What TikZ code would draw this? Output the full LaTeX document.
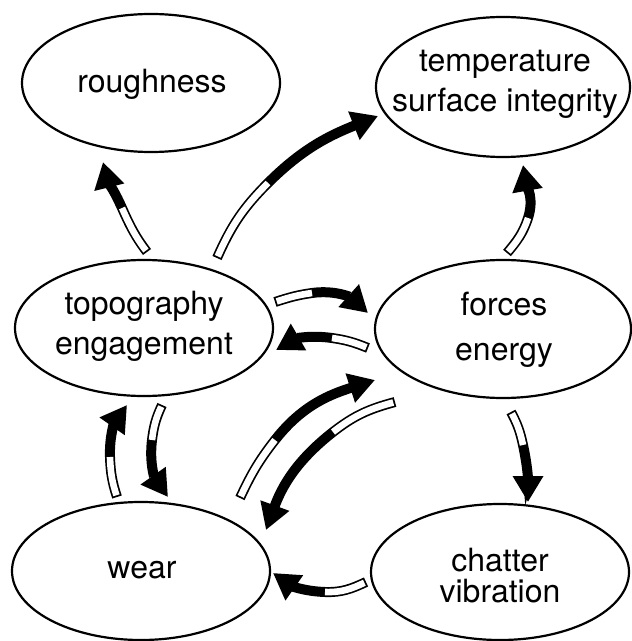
\documentclass[tikz,border=0pt]{standalone}
\usepackage{fontspec}
\setmainfont{TeX Gyre Heros}
\usetikzlibrary{arrows.meta,shapes.geometric}

\begin{document}
\begin{tikzpicture}[x=0.5pt,y=-0.5pt,
 blob/.style={draw,ellipse,line width=1.1pt,inner sep=0pt,minimum width=129pt,minimum height=69pt},
 word/.style={align=center,inner sep=0pt,font=\fontsize{16}{20}\selectfont},
 hole/.style={white,line width=3.3pt,shorten <=0.9pt},
 flow/.style={line width=5pt,-{Triangle[length=13pt,width=14.5pt]}}]
 \useasboundingbox (0,0) rectangle (631,641);
 % the six quantities
 \node[blob] (rough) at (151,83) {};
 \node[blob,minimum width=127pt,minimum height=70pt] (temp) at (503,87) {};
 \node[blob,minimum height=68pt] (topo) at (144,328) {};
 \node[blob,minimum width=128pt] (force) at (503,329) {};
 \node[blob] (wear) at (141,571) {};
 \node[blob,minimum height=68pt] (chat) at (500,572) {};
 \node[word] (rough-t) at (152,84) {roughness};
 \node[word] (temp-t) at (505,84) {temperature\\surface integrity};
 \node[word] (topo-t) at (144,326) {topography\\engagement};
 \node[word,font=\fontsize{16}{22.5}\selectfont] (force-t) at (504,330) {forces\\energy};
 \node[word] (wear-t) at (142,570) {wear};
 \node[word,font=\fontsize{16}{15.5}\selectfont] (chat-t) at (500,576) {chatter\\vibration};
 % topography -> roughness
 \coordinate (a0) at (147,252); \coordinate (am) at (122,208); \coordinate (a1) at (103,162);
 \draw[flow] (a0) to[out=127,in=294] (am) to[out=114,in=284] (a1);
 \draw[hole] (a0) to[out=127,in=294] (am);
 % topography -> temperature
 \coordinate (b0) at (217,258); \coordinate (bm) at (268,183); \coordinate (b1) at (378,116);
 \draw[flow] (b0) to[out=66,in=225] (bm) to[out=45,in=202] (b1);
 \draw[hole] (b0) to[out=66,in=225] (bm);
 % topography -> forces
 \coordinate (c0) at (275,302); \coordinate (cm) at (312,293); \coordinate (c1) at (368,313);
 \draw[flow] (c0) to[out=18,in=188] (cm) to[out=8,in=138] (c1);
 \draw[hole] (c0) to[out=18,in=188] (cm);
 % forces -> topography
 \coordinate (d0) at (368,348); \coordinate (dm) at (332,338); \coordinate (d1) at (276,350);
 \draw[flow] (d0) to[out=158,in=352] (dm) to[out=172,in=30] (d1);
 \draw[hole] (d0) to[out=158,in=352] (dm);
 % wear -> forces
 \coordinate (e0) at (240,498); \coordinate (em) at (275,440); \coordinate (e1) at (375,380);
 \draw[flow] (e0) to[out=65,in=232] (em) to[out=52,in=198] (e1);
 \draw[hole] (e0) to[out=65,in=232] (em);
 % forces -> wear
 \coordinate (f0) at (395,402); \coordinate (fm) at (333,432); \coordinate (f1) at (266,530);
 \draw[flow] (f0) to[out=195,in=38] (fm) to[out=218,in=70] (f1);
 \draw[hole] (f0) to[out=195,in=38] (fm);
 % wear -> topography
 \coordinate (g0) at (117,497); \coordinate (gm) at (110,457); \coordinate (g1) at (127,405);
 \draw[flow] (g0) to[out=108,in=272] (gm) to[out=92,in=235] (g1);
 \draw[hole] (g0) to[out=108,in=272] (gm);
 % topography -> wear
 \coordinate (h0) at (162,405); \coordinate (hm) at (152,440); \coordinate (h1) at (168,497);
 \draw[flow] (h0) to[out=245,in=83] (hm) to[out=263,in=125] (h1);
 \draw[hole] (h0) to[out=245,in=83] (hm);
 % forces -> temperature
 \coordinate (i0) at (507,253); \coordinate (im) at (528,218); \coordinate (i1) at (523,165);
 \draw[flow] (i0) to[out=50,in=252] (im) to[out=72,in=280] (i1);
 \draw[hole] (i0) to[out=50,in=252] (im);
 % forces -> chatter
 \coordinate (j0) at (511,412); \coordinate (jm) at (523,445); \coordinate (j1) at (528,502);
 \draw[flow] (j0) to[out=-62,in=102] (jm) to[out=-78,in=90] (j1);
 \draw[hole] (j0) to[out=-62,in=102] (jm);
 % chatter -> wear
 \coordinate (k0) at (366,582); \coordinate (km) at (325,592); \coordinate (k1) at (273,573);
 \draw[flow] (k0) to[out=205,in=358] (km) to[out=178,in=325] (k1);
 \draw[hole] (k0) to[out=205,in=358] (km);
\end{tikzpicture}
\end{document}
